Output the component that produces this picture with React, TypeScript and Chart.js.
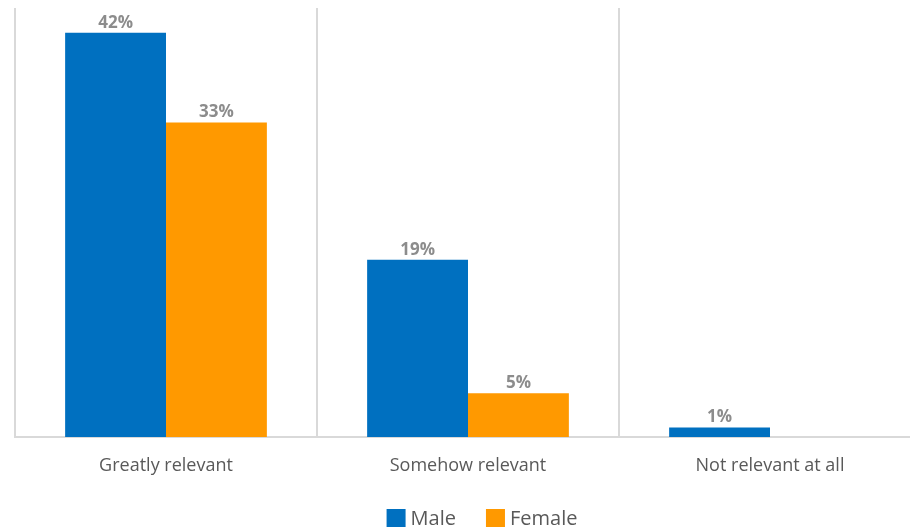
import React, { useEffect, useRef } from "react";
import { Chart, registerables } from "chart.js";

Chart.register(...registerables);

const categories = ["Greatly relevant", "Somehow relevant", "Not relevant at all"];
const maleValues = [42.4, 18.6, 1.0];
const femaleValues = [33.0, 4.6, 0];
const seriesNames = ["Male", "Female"];
const seriesColors = ["#0070C0", "#FF9900"];

const FONT = "'Open Sans', 'Noto Sans', sans-serif";

const labelPlugin = {
  id: "valueLabels",
  afterDatasetsDraw(chart: any) {
    const ctx = chart.ctx;
    ctx.save();
    ctx.font = `bold 17px ${FONT}`;
    ctx.fillStyle = "#8c8c8c";
    ctx.textAlign = "center";
    ctx.textBaseline = "alphabetic";
    chart.data.datasets.forEach((ds: any, di: number) => {
      const meta = chart.getDatasetMeta(di);
      meta.data.forEach((bar: any, i: number) => {
        const v = ds.data[i];
        if (!v) return;
        ctx.fillText(Math.round(v) + "%", bar.x, bar.y - 5);
      });
    });
    ctx.restore();
  },
};

const legendPlugin = {
  id: "customLegend",
  afterDraw(chart: any) {
    const ctx = chart.ctx;
    ctx.save();
    ctx.font = `20px ${FONT}`;
    ctx.textBaseline = "middle";
    ctx.textAlign = "left";
    const box = 19;
    const gap = 5;
    const itemGap = 30;
    const widths = seriesNames.map((n) => box + gap + ctx.measureText(n).width);
    const total = widths.reduce((a, b) => a + b, 0) + itemGap * (seriesNames.length - 1);
    let x = 482 - total / 2;
    const yc = 518;
    seriesNames.forEach((n, i) => {
      ctx.fillStyle = seriesColors[i];
      ctx.fillRect(x, yc - 9, box, 18);
      ctx.fillStyle = "#595959";
      ctx.fillText(n, x + box + gap, yc + 1);
      x += widths[i] + itemGap;
    });
    ctx.restore();
  },
};

export default function App() {
  const ref = useRef<HTMLCanvasElement>(null);
  useEffect(() => {
    if (!ref.current) return;
    const chart = new Chart(ref.current, {
      type: "bar",
      data: {
        labels: categories,
        datasets: [
          { label: seriesNames[0], data: maleValues, backgroundColor: seriesColors[0] },
          { label: seriesNames[1], data: femaleValues, backgroundColor: seriesColors[1] },
        ],
      },
      options: {
        animation: false,
        responsive: false,
        layout: { padding: { left: 15, right: 41, top: 8, bottom: 0 } },
        datasets: { bar: { categoryPercentage: 0.668, barPercentage: 1 } },
        plugins: { legend: { display: false }, tooltip: { enabled: false } },
        scales: {
          x: {
            offset: true,
            grid: { offset: true, color: "#d9d9d9", lineWidth: 2, drawTicks: false },
            border: { color: "#d9d9d9", width: 2 },
            ticks: { color: "#595959", font: { family: FONT, size: 18 }, padding: 18 },
            afterFit: (s: any) => { s.height = 94; },
          },
          y: {
            display: false,
            min: 0,
            max: 45,
          },
        },
      },
      plugins: [labelPlugin, legendPlugin],
    });
    return () => chart.destroy();
  }, []);
  return (
    <div style={{ position: "fixed", left: 0, top: 0, width: 910, height: 531, overflow: "hidden", background: "#fff" }}>
      <canvas ref={ref} width={962} height={531} style={{ width: 962, height: 531, display: "block" }} />
    </div>
  );
}
